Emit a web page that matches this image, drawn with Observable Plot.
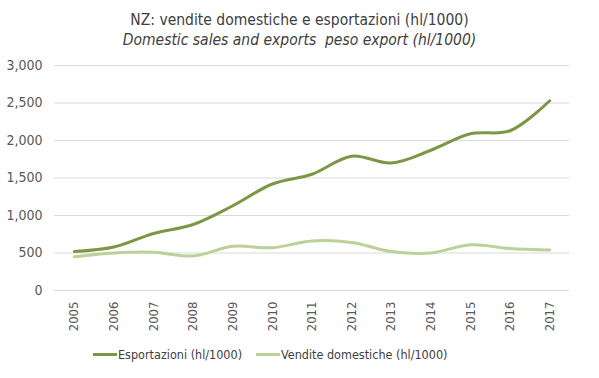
<!DOCTYPE html>
<html><head><meta charset="utf-8">
<script src="https://cdn.jsdelivr.net/npm/d3@7"></script>
<script src="https://cdn.jsdelivr.net/npm/@observablehq/plot@0.6"></script>
<style>
body{margin:0;background:#fff;font-family:"DejaVu Sans Condensed","Liberation Sans Narrow",sans-serif;}
#wrap{width:599px;height:378px;position:relative;}
.t1{position:absolute;top:11px;left:0;width:599px;text-align:center;font-size:15.5px;color:#404040;}
.t2{position:absolute;top:31px;left:0;width:599px;text-align:center;font-size:15.5px;color:#404040;font-style:italic;}
#chart{position:absolute;top:55px;left:0;}
.leg{position:absolute;top:347px;left:0;width:599px;font-size:12.5px;color:#404040;}
.leg span{position:absolute;white-space:nowrap;}
.sw{display:inline-block;width:24px;height:3px;vertical-align:middle;margin-right:1px;position:relative;top:-1px;}
</style></head>
<body><div id="wrap">
<div class="t1">NZ: vendite domestiche e esportazioni (hl/1000)</div>
<div class="t2">Domestic sales and exports&nbsp; peso export (hl/1000)</div>
<div id="chart"></div>
<div class="leg" id="leg"></div>
</div>
<script>
const years = [2005,2006,2007,2008,2009,2010,2011,2012,2013,2014,2015,2016,2017];
const exportsV = [520,580,760,880,1130,1420,1550,1790,1700,1870,2090,2130,2530];
const domestic = [450,500,510,460,590,570,660,640,520,500,610,560,540];
const seriesNames = ["Esportazioni (hl/1000)","Vendite domestiche (hl/1000)"];
const colors = ["#7b9746","#bcd199"];
const yTicks = [0,500,1000,1500,2000,2500,3000];

const data = [];
years.forEach((y,i)=>{
  data.push({year:y, value:exportsV[i], s:seriesNames[0]});
  data.push({year:y, value:domestic[i], s:seriesNames[1]});
});

const plot = Plot.plot({
  width:599, height:290,
  marginLeft:54, marginRight:30, marginTop:10, marginBottom:55,
  style:{fontFamily:'"DejaVu Sans Condensed","Liberation Sans Narrow",sans-serif', fontSize:"13px", color:"#595959"},
  x:{domain:[2004.5,2017.5], axis:null},
  y:{domain:[0,3000], axis:null},
  marks:[
    Plot.ruleY(yTicks,{stroke:"#d9d9d9", strokeWidth:1}),
    Plot.text(yTicks,{x:2004.5, y:d=>d, text:d=>d3.format(",")(d), textAnchor:"end", dx:-12, fill:"#595959", fontSize:14}),
    Plot.text(years,{x:d=>d, y:0, text:d=>String(d), rotate:-90, textAnchor:"end", dy:11, fill:"#595959", fontSize:13}),
    Plot.line(data.filter(d=>d.s===seriesNames[1]),{x:"year", y:"value", stroke:colors[1], strokeWidth:3, curve:"catmull-rom"}),
    Plot.line(data.filter(d=>d.s===seriesNames[0]),{x:"year", y:"value", stroke:colors[0], strokeWidth:3, curve:"catmull-rom"})
  ]
});
document.getElementById("chart").appendChild(plot);

const leg = document.getElementById("leg");
const lx = [93, 256];
seriesNames.forEach((n,i)=>{
  const s = document.createElement("span");
  s.style.left = lx[i]+"px";
  s.innerHTML = `<i class="sw" style="background:${colors[i]}"></i>${n}`;
  leg.appendChild(s);
});
</script>
</body></html>
